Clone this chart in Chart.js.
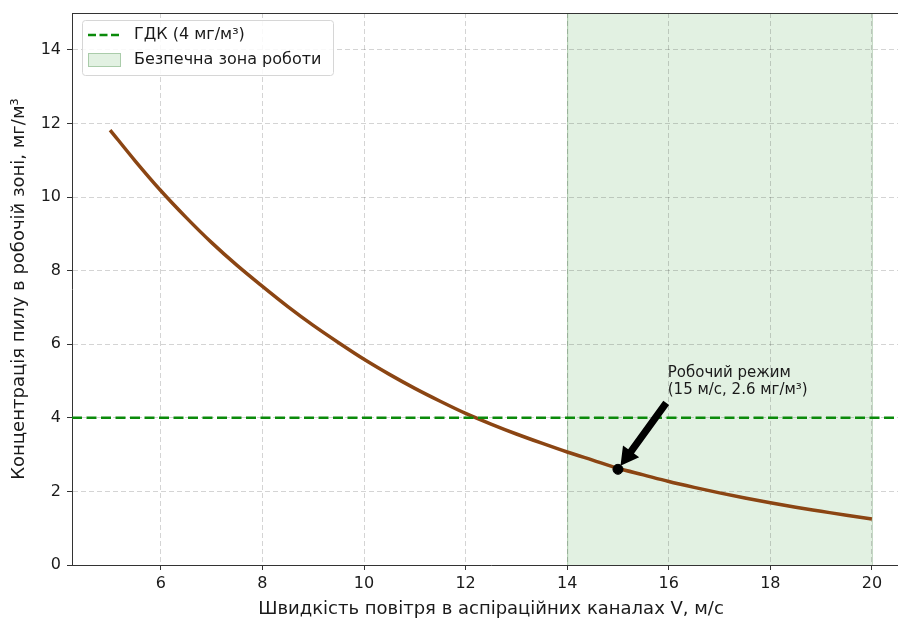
<!DOCTYPE html>
<html><head><meta charset="utf-8">
<script src="https://cdn.jsdelivr.net/npm/chart.js@4.4.1/dist/chart.umd.min.js"></script>
<style>html,body{margin:0;padding:0;background:#fff;overflow:hidden;width:898px;height:621px}#wrap{width:940px;height:621px}</style>
</head><body><div id="wrap"><canvas id="c" width="940" height="621"></canvas></div>
<script>
const velocity = [5,5.5,6,6.5,7,7.5,8,8.5,9,9.5,10,10.5,11,11.5,12,12.5,13,13.5,14,14.5,15,15.5,16,16.5,17,17.5,18,18.5,19,19.5,20];
const concentration = [11.82,10.97,10.17,9.44,8.76,8.14,7.57,7.02,6.51,6.04,5.59,5.18,4.80,4.45,4.12,3.83,3.56,3.31,3.07,2.85,2.63,2.45,2.27,2.11,1.96,1.82,1.69,1.57,1.46,1.35,1.25];
const xTicks = [6,8,10,12,14,16,18,20];
const yTicks = [0,2,4,6,8,10,12,14];
const xRange = [4.25, 20.75];
const yRange = [0, 15];
const limitValue = 4;
const safeZone = [14, 20];
const workPoint = [15, 2.6];
const annotationAnchor = [16, 4.5];
const annotationLines = ['Робочий режим', '(15 м/с, 2.6 мг/м³)'];
const legendLabels = ['ГДК (4 мг/м³)', 'Безпечна зона роботи'];
const xTitle = 'Швидкість повітря в аспіраційних каналах V, м/с';
const yTitle = 'Концентрація пилу в робочій зоні, мг/м³';

const FONT = "'DejaVu Sans', sans-serif";
const TEXT = '#1a1a1a';
const GREEN = '#0a8a0a';
const ZONE_FILL = 'rgba(0,128,0,0.115)';
const ZONE_EDGE = 'rgba(0,90,0,0.25)';

const zonePlugin = {
  id: 'zone',
  beforeDraw(chart) {
    const {ctx, chartArea: a, scales: {x, y}} = chart;
    const x0 = x.getPixelForValue(safeZone[0]), x1 = x.getPixelForValue(safeZone[1]);
    ctx.save();
    ctx.fillStyle = ZONE_FILL;
    ctx.fillRect(x0, a.top, x1 - x0, a.bottom - a.top);
    ctx.strokeStyle = ZONE_EDGE; ctx.lineWidth = 1;
    ctx.beginPath();
    ctx.moveTo(x0 + 0.5, a.top); ctx.lineTo(x0 + 0.5, a.bottom);
    ctx.moveTo(x1 + 0.5, a.top); ctx.lineTo(x1 + 0.5, a.bottom);
    ctx.stroke();
    ctx.restore();
  }
};

const overlayPlugin = {
  id: 'overlay',
  afterDraw(chart) {
    const {ctx, chartArea: a, scales: {x, y}} = chart;
    ctx.save();
    // top spine
    ctx.strokeStyle = '#333'; ctx.lineWidth = 1;
    ctx.beginPath(); ctx.moveTo(a.left, a.top + 0.5); ctx.lineTo(a.right, a.top + 0.5); ctx.stroke();

    // annotation arrow
    const ax = x.getPixelForValue(annotationAnchor[0]), ay = y.getPixelForValue(annotationAnchor[1]);
    const px = x.getPixelForValue(workPoint[0]), py = y.getPixelForValue(workPoint[1]);
    const dx = px - ax, dy = py - ay, len = Math.hypot(dx, dy);
    const ux = dx / len, uy = dy / len, nx = -uy, ny = ux;
    const sh = 0.05 * len;
    const sx = ax + ux * sh, sy = ay + uy * sh;
    const tx = px - ux * sh, ty = py - uy * sh;
    const w = 3.6, hw = 10, hl = 18;
    const bx = tx - ux * hl, by = ty - uy * hl;
    ctx.fillStyle = '#000';
    ctx.beginPath();
    ctx.moveTo(sx + nx * w, sy + ny * w);
    ctx.lineTo(bx + nx * w, by + ny * w);
    ctx.lineTo(bx + nx * hw, by + ny * hw);
    ctx.lineTo(tx, ty);
    ctx.lineTo(bx - nx * hw, by - ny * hw);
    ctx.lineTo(bx - nx * w, by - ny * w);
    ctx.lineTo(sx - nx * w, sy - ny * w);
    ctx.closePath();
    ctx.fill();

    // annotation text
    ctx.fillStyle = TEXT;
    ctx.font = '15px ' + FONT;
    ctx.textAlign = 'left'; ctx.textBaseline = 'alphabetic';
    const lh = 17;
    for (let i = 0; i < annotationLines.length; i++) {
      ctx.fillText(annotationLines[i], ax - 1, ay - 5 - (annotationLines.length - 1 - i) * lh);
    }

    // legend
    const lx = a.left + 10, ly = a.top + 7, lw = 251, lhgt = 55;
    ctx.fillStyle = 'rgba(255,255,255,0.85)';
    ctx.strokeStyle = '#d6d6d6'; ctx.lineWidth = 1;
    ctx.beginPath();
    ctx.roundRect(lx + 0.5, ly + 0.5, lw, lhgt, 3);
    ctx.fill(); ctx.stroke();
    ctx.strokeStyle = GREEN; ctx.lineWidth = 2.5; ctx.setLineDash([8, 3.5]);
    ctx.beginPath(); ctx.moveTo(lx + 6, ly + 15); ctx.lineTo(lx + 39, ly + 15); ctx.stroke();
    ctx.setLineDash([]);
    ctx.fillStyle = ZONE_FILL;
    ctx.fillRect(lx + 6, ly + 33, 33, 14);
    ctx.strokeStyle = ZONE_EDGE; ctx.lineWidth = 1;
    ctx.strokeRect(lx + 6.5, ly + 33.5, 32, 13);
    ctx.fillStyle = TEXT; ctx.font = '16px ' + FONT; ctx.textBaseline = 'middle';
    ctx.fillText(legendLabels[0], lx + 52, ly + 15);
    ctx.fillText(legendLabels[1], lx + 52, ly + 40);
    ctx.restore();
  }
};

new Chart(document.getElementById('c'), {
  type: 'line',
  data: {
    datasets: [
      {
        label: 'curve',
        data: velocity.map((v, i) => ({x: v, y: concentration[i]})),
        borderColor: '#8B4513', borderWidth: 3.5, pointRadius: 0,
        cubicInterpolationMode: 'monotone', fill: false, order: 3
      },
      {
        label: legendLabels[0],
        data: xRange.map(v => ({x: v, y: limitValue})),
        borderColor: GREEN, borderWidth: 2.5, borderDash: [10, 4.5],
        pointRadius: 0, fill: false, order: 2
      },
      {
        label: 'point',
        type: 'scatter',
        data: [{x: workPoint[0], y: workPoint[1]}],
        backgroundColor: '#000', borderColor: '#000', pointRadius: 5, order: 1
      }
    ]
  },
  options: {
    responsive: false, animation: false, devicePixelRatio: 1,
    layout: {padding: {top: 13, right: 30, left: 0, bottom: 0}},
    plugins: {legend: {display: false}, tooltip: {enabled: false}},
    scales: {
      x: {
        type: 'linear', min: xRange[0], max: xRange[1],
        afterBuildTicks: s => { s.ticks = xTicks.map(v => ({value: v})); },
        afterFit: s => { s.height = 56; s.paddingLeft = 0; s.paddingRight = 0; },
        ticks: {color: TEXT, font: {family: FONT, size: 16}, padding: 4, maxRotation: 0},
        grid: {color: 'rgba(0,0,0,0.17)', lineWidth: 1, tickLength: 5, tickColor: '#333', tickBorderDash: []},
        border: {display: true, color: '#333', width: 1, dash: [5, 3]},
        title: {display: true, text: xTitle, color: TEXT, font: {family: FONT, size: 18}, padding: {top: 0, bottom: 1}}
      },
      y: {
        type: 'linear', min: yRange[0], max: yRange[1],
        afterBuildTicks: s => { s.ticks = yTicks.map(v => ({value: v})); },
        afterFit: s => { s.width = 72; s.paddingTop = 0; s.paddingBottom = 0; },
        ticks: {color: TEXT, font: {family: FONT, size: 16}, padding: 6},
        grid: {color: 'rgba(0,0,0,0.17)', lineWidth: 1, tickLength: 5, tickColor: '#333', tickBorderDash: []},
        border: {display: true, color: '#333', width: 1, dash: [5, 3]},
        title: {display: true, text: yTitle, color: TEXT, font: {family: FONT, size: 18}, padding: {top: 9, bottom: 0}}
      }
    }
  },
  plugins: [zonePlugin, overlayPlugin]
});
</script></body></html>
